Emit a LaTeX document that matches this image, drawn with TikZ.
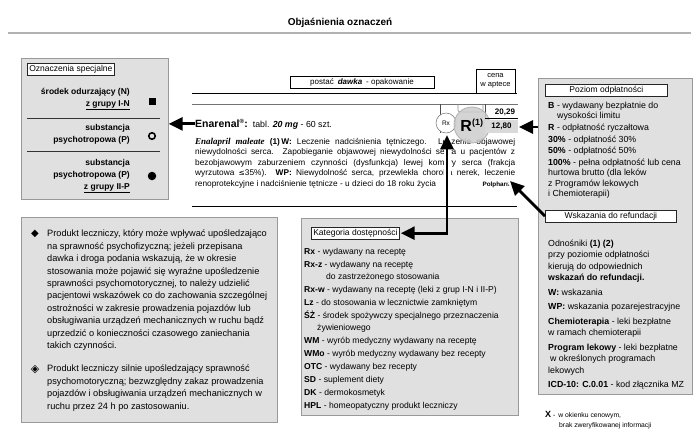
\documentclass[tikz,border=0pt]{standalone}
\usepackage{fontspec}
\setmainfont{Liberation Sans}
\newfontfamily\serifbi{Liberation Serif}
\newfontfamily\symfont{DejaVu Sans}
\usetikzlibrary{arrows.meta,calc}
\begin{document}
\begin{tikzpicture}[x=1pt,y=-1pt,
  panel/.style={draw=black!40, fill=black!12, line width=0.7pt, inner sep=0, anchor=north west},
  tag/.style={draw=black!85, fill=white, line width=0.6pt, inner sep=2pt, anchor=north west, font=\fontsize{8.5}{10}\selectfont, text depth=1.5pt, align=left},
  bigarrow/.style={line width=2.8pt, -{Triangle[length=14pt,width=13pt]}},
  bothtips/.style={line width=2.8pt, {Triangle[length=14pt,width=13pt]}-{Triangle[length=14pt,width=13pt]}},
  halo/.style={draw=white, line width=7pt},
  body/.style={anchor=north west, inner sep=0, align=left},
  sym/.style={inner sep=0},
]
\useasboundingbox (0,0) rectangle (699,439);

% title
\node[font=\fontsize{10}{12}\selectfont\bfseries] (title) at (340,23) {Objaśnienia oznaczeń};
\draw[black!30, line width=2pt] (8,33) -- (691,33);

% left box: Oznaczenia specjalne
\node[panel, minimum width=147, minimum height=141] (lbox) at (21,58) {};
\node[tag] (ozn) at (27,63) {Oznaczenia specjalne};
\node[body, anchor=north east, align=right, font=\fontsize{8.5}{12}\selectfont\bfseries] (n1) at (130,88) {środek odurzający (N)\\\underline{z grupy I-N}};
\node[sym, fill=black, minimum size=7] (sq) at (152,101) {};
\draw[black!80, line width=0.6pt] (27,118) -- (160,118);
\node[body, anchor=north east, align=right, font=\fontsize{8.5}{12}\selectfont\bfseries] (p1) at (130,124) {substancja\\psychotropowa (P)};
\node[sym, circle, draw, line width=1.6pt, minimum size=6.5] (oc) at (152,136) {};
\draw[black!80, line width=0.6pt] (27,151) -- (160,151);
\node[body, anchor=north east, align=right, font=\fontsize{8.5}{12}\selectfont\bfseries] (p2) at (130,159) {substancja\\psychotropowa (P)\\\underline{z grupy II-P}};
\node[sym, circle, fill=black, minimum size=8.5] (fc) at (152,176) {};

% header of the entry
\node[draw, line width=0.5pt, minimum width=144, minimum height=12, inner sep=0, font=\fontsize{8}{9}\selectfont] (postac) at (362,82.5) {postać\enspace\textbf{\textit{dawka}}\enspace- opakowanie};
\node[draw, line width=0.5pt, minimum width=39, minimum height=24, align=center, inner sep=0, font=\fontsize{7.5}{9}\selectfont] (cena) at (495.5,81) {cena\\w aptece};
\draw[line width=0.9pt] (192,93) -- (517,93);
\draw[black!55, line width=0.9pt] (192,104) -- (518,104);
\draw[black!70, line width=0.6pt] (440,104) -- (440,133);
\draw[black!45, line width=0.6pt, rounded corners=2pt] (458,104) -- (458,112) -- (483,112) -- (483,104);
\draw[black!70, line width=0.6pt] (485,104) -- (485,118);

% entry
\node[anchor=base west, inner sep=0] (enar) at (195,127) {{\fontsize{10.5}{13}\selectfont\bfseries Enarenal\textsuperscript{\fontsize{6}{6}\selectfont®}:}\fontsize{8.8}{11}\selectfont\ \ tabl. \textbf{\textit{20 mg}} - 60 szt.};
\node[body, font=\fontsize{8.3}{10.5}\selectfont] (para) at (195,138) {%
\makebox[320pt][s]{{\serifbi\fontsize{9}{10}\selectfont\bfseries\itshape Enalapril maleate} \textbf{(1)\,W:} Leczenie nadciśnienia tętniczego. Leczenie objawowej}\\
\makebox[320pt][s]{niewydolności serca. Zapobieganie objawowej niewydolności serca u pacjentów z}\\
\makebox[320pt][s]{bezobjawowym zaburzeniem czynności (dysfunkcja) lewej komory serca (frakcja}\\
\makebox[320pt][s]{wyrzutowa {\symfont\fontsize{7.5}{10}\selectfont ≤}35\%). \textbf{WP:} Niewydolność serca, przewlekła choroba nerek, leczenie}\\
\hbox to 320pt{renoprotekcyjne i nadciśnienie tętnicze - u dzieci do 18 roku życia\hfill{\bfseries\fontsize{6.3}{7}\selectfont Polpharma}}};
\draw[line width=0.9pt] (192,206) -- (517,206);

% Rx and R circles, prices
\node[sym, circle, draw=black!55, line width=0.5pt, fill=white, minimum size=20, font=\fontsize{6.5}{8}\selectfont] (rx) at (446,123) {Rx};
\node[sym, circle, draw=black!30, fill=black!20, fill opacity=0.85, text opacity=1, line width=0.8pt, minimum size=36] (rr) at (472,125) {\fontsize{16}{16}\selectfont\bfseries R\textsuperscript{\fontsize{9}{9}\selectfont(1)}};
\node[inner sep=0, font=\fontsize{8}{9}\selectfont\bfseries] (pr1) at (505,112.5) {20,29};
\draw[line width=0.6pt] (485,118) -- (518,118);
\node[fill=black!15, minimum width=33, minimum height=13, inner sep=0, font=\fontsize{8}{9}\selectfont\bfseries] (pr2) at (501.5,126.5) {12,80};

% right box
\node[panel, minimum width=154, minimum height=316] (rbox) at (538,78) {};
\node[tag, minimum width=122] (poz) at (545,84) {Poziom odpłatności};
\node[body, font=\fontsize{8.8}{10.4}\selectfont] (pozt) at (548,102) {%
\textbf{B} - wydawany bezpłatnie do\\
\hspace*{9pt}wysokości limitu\\[1.2pt]
\textbf{R} - odpłatność ryczałtowa\\[1.2pt]
\textbf{30\%} - odpłatność 30\%\\[1.2pt]
\textbf{50\%} - odpłatność 50\%\\[1.2pt]
\textbf{100\%} - pełna odpłatność lub cena\\
hurtowa brutto (dla leków\\
z Programów lekowych\\
i Chemioterapii)};
\node[tag, minimum width=131] (wsk) at (545,210) {Wskazania do refundacji};
\node[body, font=\fontsize{8.8}{11.2}\selectfont] (wskt) at (548,240) {%
Odnośniki \textbf{(1) (2)}\\
przy poziomie odpłatności\\
kierują do odpowiednich\\
\textbf{wskazań do refundacji.}\\[3.6pt]
\textbf{W:} wskazania\\[3.6pt]
\textbf{WP:} wskazania pozarejestracyjne\\[3.6pt]
\textbf{Chemioterapia} - leki bezpłatne\\
w ramach chemioterapii\\[3.6pt]
\textbf{Program lekowy} - leki bezpłatne\\
\hspace*{2pt}w określonych programach\\
lekowych\\[3.6pt]
\textbf{ICD-10: C.0.01} - kod złącznika MZ};
\node[body, font=\fontsize{6.8}{10}\selectfont] (xnote) at (545,411) {{\fontsize{9}{10}\selectfont\textbf{X}} - \,w okienku cenowym,\\\hspace*{14pt}brak zweryfikowanej informacji};

% Kategoria box
\node[panel, minimum width=217, minimum height=197] (kbox) at (301,218) {};
\node[tag] (kat) at (311,227) {Kategoria dostępności};
\node[body, font=\fontsize{8.6}{11.6}\selectfont] (katt) at (304,248) {%
\textbf{Rx} - wydawany na receptę\\[1.5pt]
\textbf{Rx-z} - wydawany na receptę\\
\hspace*{22pt}do zastrzeżonego stosowania\\[1.5pt]
\textbf{Rx-w} - wydawany na receptę (leki z grup I-N i II-P)\\[1.5pt]
\textbf{Lz} - do stosowania w lecznictwie zamkniętym\\[1.5pt]
\textbf{ŚŻ} - środek spożywczy specjalnego przeznaczenia\\
\hspace*{13pt}żywieniowego\\[1.5pt]
\textbf{WM} - wyrób medyczny wydawany na receptę\\[1.5pt]
\textbf{WMo} - wyrób medyczny wydawany bez recepty\\[1.5pt]
\textbf{OTC} - wydawany bez recepty\\[1.5pt]
\textbf{SD} - suplement diety\\[1.5pt]
\textbf{DK} - dermokosmetyk\\[1.5pt]
\textbf{HPL} - homeopatyczny produkt leczniczy};

% bottom-left box
\node[panel, minimum width=256, minimum height=205] (bbox) at (21,217) {};
\node[sym, font=\symfont\fontsize{10}{10}\selectfont] (d1) at (35,234) {◆};
\node[body, font=\fontsize{9.2}{12.4}\selectfont] (b1) at (47,230) {%
Produkt leczniczy, który może wpływać upośledzająco\\
na sprawność psychofizyczną; jeżeli przepisana\\
dawka i droga podania wskazują, że w okresie\\
stosowania może pojawić się wyraźne upośledzenie\\
sprawności psychomotorycznej, to należy udzielić\\
pacjentowi wskazówek co do zachowania szczególnej\\
ostrożności w zakresie prowadzenia pojazdów lub\\
obsługiwania urządzeń mechanicznych w ruchu bądź\\
uprzedzić o konieczności czasowego zaniechania\\
takich czynności.};
\node[sym, font=\symfont\fontsize{11}{11}\selectfont] (d2) at (35,370) {◈};
\node[body, font=\fontsize{9.2}{12.4}\selectfont] (b2) at (47,365) {%
Produkt leczniczy silnie upośledzający sprawność\\
psychomotoryczną; bezwzględny zakaz prowadzenia\\
pojazdów i obsługiwania urządzeń mechanicznych w\\
ruchu przez 24 h po zastosowaniu.};

% arrows
\draw[bigarrow] (enar.west) -- (lbox.east |- enar.west);
\coordinate (pricetip) at (519,127);
\draw[bigarrow] (rbox.west |- pricetip) -- (pricetip);
\draw[halo] (447,139) -- (447,200);
\draw[bothtips, shorten <=1pt, shorten >=2pt, line join=miter] (kat.east) -| ([xshift=1pt]rx.south);
\coordinate (dgt) at (510,181);
\draw[halo] ($(dgt)!0.4!(wsk.west)$) -- (dgt);
\draw[bigarrow] (wsk.west) -- (dgt);
\end{tikzpicture}
\end{document}
